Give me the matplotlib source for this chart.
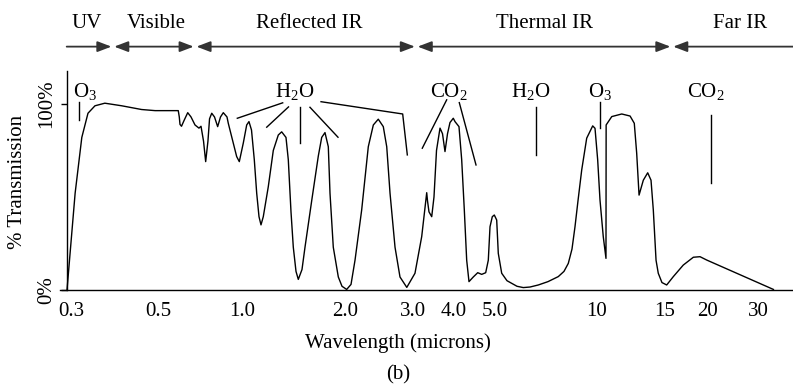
import numpy as np
import matplotlib
matplotlib.use("Agg")
import matplotlib.pyplot as plt
from matplotlib.transforms import ScaledTranslation

plt.rcParams['font.family'] = ['Liberation Serif', 'DejaVu Serif']
plt.rcParams['mathtext.fontset'] = 'custom'
plt.rcParams['mathtext.rm'] = 'Liberation Serif'
plt.rcParams['mathtext.it'] = 'Liberation Serif:italic'

# transmission curve (wavelength in microns, % transmission)
wavelength = [
    0.300, 0.314, 0.326, 0.3375, 0.351, 0.371, 0.408, 0.456, 0.492, 0.591,
    0.596, 0.5995, 0.607, 0.6195, 0.639, 0.6566, 0.6785, 0.701, 0.713, 0.728,
    0.741, 0.755, 0.765, 0.779, 0.797, 0.818, 0.8375, 0.857, 0.8835, 0.893,
    0.9307, 0.957, 0.978, 1.0088, 1.0321, 1.048, 1.066, 1.0863, 1.104, 1.1212,
    1.1364, 1.154, 1.1935, 1.2344, 1.2767, 1.306, 1.3445, 1.3656, 1.3906, 1.4123,
    1.4382, 1.4606, 1.4974, 1.528, 1.5985, 1.6712, 1.7097, 1.748, 1.7875, 1.808,
    1.8484, 1.912, 1.960, 2.020, 2.073, 2.123, 2.209, 2.298, 2.368, 2.439,
    2.513, 2.565, 2.616, 2.695, 2.776, 2.891, 3.042, 3.189, 3.303, 3.321,
    3.356, 3.421, 3.476, 3.538, 3.626, 3.690, 3.755, 3.822, 3.889, 3.980,
    4.022, 4.110, 4.171, 4.231, 4.286, 4.340, 4.443, 4.551, 4.651, 4.753,
    4.821, 4.866, 4.927, 4.981, 5.058, 5.113, 5.233, 5.424, 5.601, 5.806,
    6.060, 6.342, 6.711, 7.168, 7.687, 7.990, 8.228, 8.437, 8.611, 8.789,
    9.013, 9.324, 9.712, 9.866, 10.04, 10.18, 10.38, 10.55, 10.56, 10.92,
    11.59, 12.18, 12.49, 12.67, 12.85, 13.18, 13.53, 13.80, 13.99, 14.22,
    14.41, 14.73, 15.17, 15.86, 16.95, 18.13, 18.96, 19.83, 34.0,
]
transmission = [
    0, 52, 82, 95, 99, 100.4, 99, 97, 96.4, 96.4,
    93, 89, 88, 91, 95.3, 93, 88.7, 87, 88, 80,
    69, 80, 92, 95, 93, 87.8, 93, 95.3, 93, 89.6,
    79, 71.7, 69, 79, 88.7, 90.5, 86, 70, 52, 39.4,
    35, 39.4, 55.5, 75, 83.3, 85, 82, 70, 42, 23,
    10, 5.7, 11, 23, 48, 72, 82, 84.6, 77, 52,
    23, 7, 2, 0.3, 3, 16, 43, 77, 88.7, 91.8,
    87.8, 77, 52, 23, 7, 1.4, 9, 28.7, 52.3, 48,
    42, 39.4, 50, 75, 87, 84, 74.4, 84, 90, 92.3,
    90.5, 87.8, 70, 43, 16, 4.5, 7, 9.3, 8.4, 9.3,
    16, 34, 39.4, 40.3, 37.6, 19.7, 9, 5, 3.6, 2,
    1.3, 1.6, 2.7, 4.5, 7.2, 10, 14.3, 22, 34, 48,
    64.5, 81.6, 88.2, 86.9, 70, 48.4, 28.7, 17, 88.7, 93.2,
    94.6, 93.5, 89.6, 73.5, 51, 59, 63, 59, 43, 16,
    9, 4, 2.7, 7.2, 13.4, 17.6, 17.9, 16.1, 0.3,
]

tick_values = [0.3, 0.5, 1.0, 2.0, 3.0, 4.0, 5.0, 10, 15, 20, 30]
tick_labels = ['0.3', '0.5', '1.0', '2.0', '3.0', '4.0', '5.0', '10', '15', '20', '30']

# spectral regions along the top
band_names = ['UV', 'Visible', 'Reflected IR', 'Thermal IR', 'Far IR']
band_label_x = [0.3356, 0.494, 1.57, 7.01, 25.93]
band_edges = [0.2995, 0.388, 0.679, 3.07, 15.7, 39.85]

# absorbing gases and their leader lines
gas_names = ['O$_3$', 'H$_2$O', 'CO$_2$', 'H$_2$O', 'O$_3$', 'CO$_2$']
gas_x = [0.310, 1.43, 3.85, 6.36, 10.16, 19.71]
gas_align = ['left', 'center', 'center', 'center', 'center', 'center']
gas_leaders = [
    [(0.321, 101.2), (0.321, 91.4)],
    [(0.962, 92.3), (1.315, 100.6)],
    [(1.181, 87.5), (1.3675, 98.4)],
    [(1.4775, 98.2), (1.4775, 79.2)],
    [(1.580, 98.2), (1.908, 82.1)],
    [(1.702, 101.2), (2.821, 94.6), (2.900, 72.6)],
    [(3.800, 102.2), (3.202, 76.2)],
    [(4.117, 100.7), (4.509, 67.2)],
    [(6.59, 98.2), (6.59, 72.6)],
    [(10.18, 101.2), (10.18, 86.9)],
    [(20.44, 94.1), (20.44, 57.4)],
]

# hand-drawn axis: roughly logarithmic, piecewise between the labelled ticks
knot_wl = np.log10([0.2885, 0.3, 0.5, 1, 2, 3, 4, 5, 10, 15, 20, 30, 39.85])
knot_pos = [60, 67, 158, 242, 345, 413, 454, 495, 597, 665, 708, 758, 793]


def fwd(x):
    x = np.clip(np.asarray(x, dtype=float), 1e-3, None)
    return np.interp(np.log10(x), knot_wl, knot_pos)


def inv(p):
    return 10 ** np.interp(p, knot_pos, knot_wl)


fs = 15
fig = plt.figure(figsize=(7.93, 3.86), dpi=100)
ax = fig.add_axes([60 / 793, 96 / 386, 733 / 793, 219 / 386])
ax.set_xscale('function', functions=(fwd, inv))
ax.set_xlim(band_edges[0] - 0.0115, band_edges[-1])
ax.set_ylim(0, 117.7)

ax.plot(wavelength, transmission, color='black', lw=1.0, solid_joinstyle='round')

for sp in ['top', 'right']:
    ax.spines[sp].set_visible(False)
ax.spines['left'].set_position(('data', 0.3))
ax.spines['left'].set_linewidth(1.0)
ax.spines['bottom'].set_linewidth(1.0)

ax.set_xticks(tick_values)
ax.set_xticklabels(tick_labels, fontsize=fs)
ax.xaxis.set_minor_locator(matplotlib.ticker.NullLocator())
ax.tick_params(axis='x', length=0, pad=8.6)
# the "0.3" label sits a little right of the axis corner
first = ax.get_xticklabels()[0]
first.set_transform(first.get_transform() + ScaledTranslation(0.045, 0, fig.dpi_scale_trans))

ax.set_yticks([0, 100])
ax.set_yticklabels(['0%', '100%'], fontsize=fs, rotation=90, va='center')
ax.tick_params(axis='y', direction='out', length=4.3, width=1.0, pad=3.5)

# region arrows and names
arrow_y = 130.8
for i, name in enumerate(band_names):
    if i == 0:
        style, sa, sb = '-|>', 0, 1
    elif i == len(band_names) - 1:
        style, sa, sb = '<|-', 1, 0
    else:
        style, sa, sb = '<|-|>', 1, 1
    ax.annotate('', xy=(band_edges[i + 1], arrow_y), xytext=(band_edges[i], arrow_y),
                annotation_clip=False,
                arrowprops=dict(arrowstyle=style + ',head_length=0.84,head_width=0.32',
                                mutation_scale=10, color='#333333', lw=1.3,
                                shrinkA=sa, shrinkB=sb))
    ax.text(band_label_x[i], 140.7, name, fontsize=fs, ha='center', va='baseline',
            clip_on=False)

for name, x, ha in zip(gas_names, gas_x, gas_align):
    ax.text(x, 103.9, name, fontsize=fs, ha=ha, va='baseline')
for seg in gas_leaders:
    xs, ys = zip(*seg)
    ax.plot(xs, ys, color='black', lw=1.0, clip_on=False)

fig.text(17.5 / 793, 1 - 181.5 / 386, '% Transmission', fontsize=fs,
         rotation=90, ha='center', va='center')
fig.text(398 / 793, 1 - 343 / 386, 'Wavelength (microns)', fontsize=fs,
         ha='center', va='center')
fig.text(398.5 / 793, 1 - 375 / 386, '(b)', fontsize=fs, ha='center', va='center')

fig.savefig('out.png', dpi=100)
